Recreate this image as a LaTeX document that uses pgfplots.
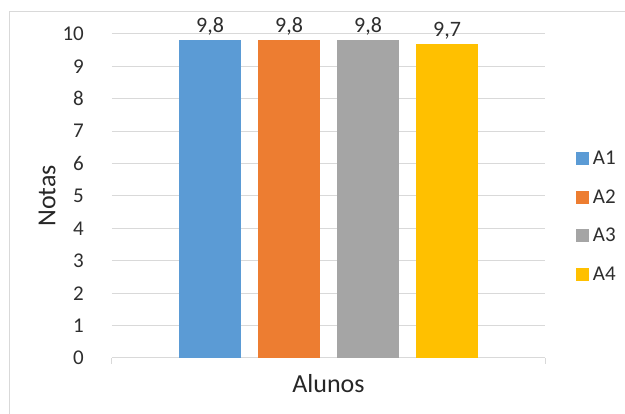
\documentclass[border=0pt]{standalone}
\usepackage{fontspec}
\setmainfont{Carlito}
\usepackage{pgfplots}
\pgfplotsset{compat=1.18}
\definecolor{cA}{HTML}{5B9BD5}
\definecolor{cB}{HTML}{ED7D31}
\definecolor{cC}{HTML}{A5A5A5}
\definecolor{cD}{HTML}{FFC000}
\definecolor{gridc}{HTML}{D9D9D9}
\definecolor{txt}{HTML}{2E2E2E}
\definecolor{ttl}{HTML}{262626}
\newcommand\ft{\fontsize{21}{24}\selectfont}
\newcommand\fl{\fontsize{21}{24}\selectfont}
\newcommand\fd{\fontsize{22}{25}\selectfont}
\newcommand\fti{\fontsize{26}{30}\selectfont}
\pgfplotsset{sq/.style={legend image code/.code={\fill[##1,draw=none] (0pt,-6.5pt) rectangle (13pt,6.5pt);}}}
\begin{document}
\begin{tikzpicture}[x=1pt,y=1pt]
\path[use as bounding box] (0,0) rectangle (625,414);
\draw[gridc, line width=1pt] (9.5,0) -- (9.5,402.5) -- (625,402.5);
\begin{axis}[
  at={(112pt,56pt)}, anchor=south west,
  scale only axis, width=433pt, height=324pt,
  xmin=-1, xmax=1, ymin=0, ymax=10,
  ybar=17pt, bar width=62pt,
  ytick={0,1,...,10},
  xtick={-1,1}, xticklabels={},
  major tick length=6pt, tick align=outside,
  xtick pos=left, ytick pos=left,
  xtick style={gridc, line width=1pt},
  ytick style={draw=none},
  axis line style={draw=none},
  ymajorgrids, grid style={gridc, line width=1pt},
  yticklabel style={font=\ft, text=txt, anchor=east, inner sep=0pt, xshift=-22pt},
  /pgf/number format/assume math mode=true,
  nodes near coords={\pgfmathprintnumber[fixed,fixed zerofill,precision=1,use comma,assume math mode=true]{\pgfplotspointmeta}},
  every node near coord/.append style={font=\fd, text=txt, anchor=base, inner sep=0pt, yshift=7.5pt},
  xlabel={Alunos}, ylabel={Notas},
  xlabel style={font=\fti, text=ttl, at={(axis description cs:0.5,-0.080)}, anchor=center},
  ylabel style={font=\fti, text=ttl, at={(axis description cs:-0.150,0.5)}, anchor=center, rotate=0},
  legend style={draw=none, fill=none, inner sep=0pt, outer sep=0pt,
    at={(axis description cs:1.0716,0.437)}, anchor=west,
    row sep=23.5pt, font=\fl, text=txt, nodes={inner sep=0pt},
    /tikz/every odd column/.append style={column sep=4pt}},
  legend cell align=left,
]
\addplot[fill=cA, draw=none, sq] coordinates {(0,9.8)};
\addplot[fill=cB, draw=none, sq] coordinates {(0,9.8)};
\addplot[fill=cC, draw=none, sq] coordinates {(0,9.8)};
\addplot[fill=cD, draw=none, sq] coordinates {(0,9.7)};
\legend{A1,A2,A3,A4}
\end{axis}
\end{tikzpicture}
\end{document}
